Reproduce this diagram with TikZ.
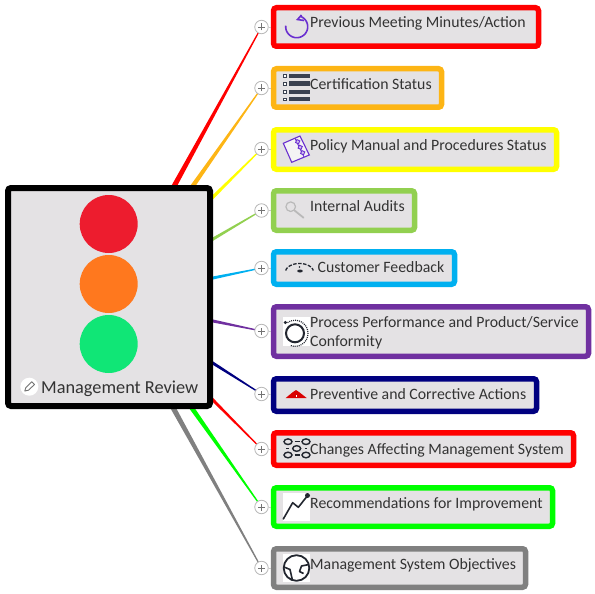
\documentclass[tikz,border=0pt]{standalone}
\usepackage{fontspec}
\setmainfont{Carlito}
\usetikzlibrary{calc,backgrounds,arrows.meta}
\definecolor{boxfill}{HTML}{E4E2E4}
\definecolor{inkc}{HTML}{333333}
\definecolor{iconc}{HTML}{3A4150}
\definecolor{icond}{HTML}{22262F}
\definecolor{violetc}{HTML}{6A2FD0}
\definecolor{cred}{HTML}{FF0000}
\definecolor{corange}{HTML}{FDB515}
\definecolor{cyellow}{HTML}{FFFF00}
\definecolor{cgreen}{HTML}{92D050}
\definecolor{cblue}{HTML}{00B0F0}
\definecolor{cpurple}{HTML}{7030A0}
\definecolor{cnavy}{HTML}{000080}
\definecolor{clime}{HTML}{00FF00}
\definecolor{cgray}{HTML}{808080}
\definecolor{lampr}{HTML}{ED1C2E}
\definecolor{lampo}{HTML}{FF781E}
\definecolor{lampg}{HTML}{10E676}
\tikzset{
  topic/.style={draw=#1,line width=5.5pt,rounded corners=3pt,fill=boxfill,inner sep=0pt},
  hubbox/.style={draw=black,line width=6pt,rounded corners=3pt,fill=boxfill,inner sep=0pt},
  lamp/.style={circle,fill=#1,inner sep=0pt,minimum size=58pt},
  lbl/.style={anchor=base west,inner sep=0pt,text=inkc,font=\fontsize{15.8pt}{19pt}\selectfont},
  plusnode/.style={circle,draw=gray!55,line width=0.8pt,fill=white,inner sep=0pt,minimum size=13.5pt,
    path picture={\draw[gray!90!black,line width=0.7pt] ([xshift=-3.5pt]path picture bounding box.center)--([xshift=3.5pt]path picture bounding box.center)
      ([yshift=-3.5pt]path picture bounding box.center)--([yshift=3.5pt]path picture bounding box.center);}},
  whitepad/.style={fill=white,draw=none},
  stub/.style={draw=gray!45,line width=0.7pt},
}
\newcommand{\taper}[4]{% start, end, colour, start half-width
  \fill[#3] ($(#1)!#4pt!90:(#2)$) -- ($(#2)!0.55pt!-90:(#1)$) -- ($(#2)!0.55pt!90:(#1)$) -- ($(#1)!#4pt!-90:(#2)$) -- cycle;
}
\begin{document}
\begin{tikzpicture}[x=1pt,y=-1pt]
\useasboundingbox (0,0) rectangle (595,594);
% topic boxes
\node[topic=cred,minimum width=265pt,minimum height=38.5pt] (b1) at (406,27) {};
\node[topic=corange,minimum width=168pt,minimum height=38.5pt] (b2) at (357.5,88) {};
\node[topic=cyellow,minimum width=283pt,minimum height=39.5pt] (b3) at (415,149.5) {};
\node[topic=cgreen,minimum width=141pt,minimum height=39.5pt] (b4) at (344,210.5) {};
\node[topic=cblue,minimum width=181pt,minimum height=32.5pt] (b5) at (364,268) {};
\node[topic=cpurple,minimum width=315pt,minimum height=49.5pt] (b6) at (431,331.5) {};
\node[topic=cnavy,minimum width=263pt,minimum height=32.5pt] (b7) at (405,395) {};
\node[topic=cred,minimum width=300pt,minimum height=32.5pt] (b8) at (423.5,449) {};
\node[topic=clime,minimum width=279pt,minimum height=38.5pt] (b9) at (413,507) {};
\node[topic=cgray,minimum width=252pt,minimum height=38.5pt] (b10) at (399.5,568) {};
% plus nodes
\foreach \n/\y in {1/27,2/88,3/149,4/210.5,5/268,6/331,7/394,8/449,9/507,10/568}
  \node[plusnode] (p\n) at (261.5,\y) {};
% hub
\node[hubbox,minimum width=202pt,minimum height=218pt] (hub) at (109,297) {};
\node[lamp=lampr] (l1) at (108.7,224) {};
\node[lamp=lampo] (l2) at (108.7,284) {};
\node[lamp=lampg] (l3) at (108.7,344) {};
% hub anchors for connectors
\coordinate (s1) at (172,190);
\coordinate (s2) at (190,190);
\coordinate (s3) at (208,202);
\coordinate (s4) at (208,242);
\coordinate (s5) at (208,279);
\coordinate (s6) at (208,320);
\coordinate (s7) at (208,360);
\coordinate (s8) at (208,395);
\coordinate (s9) at (189,404);
\coordinate (s10) at (171,404);
\begin{scope}[on background layer]
\taper{s1}{p1}{cred}{2.6}
\taper{s2}{p2}{corange}{2.3}
\taper{s3}{p3}{cyellow}{1.8}
\taper{s4}{p4}{cgreen}{1.6}
\taper{s5}{p5}{cblue}{1.6}
\taper{s6}{p6}{cpurple}{1.6}
\taper{s7}{p7}{cnavy}{1.6}
\taper{s8}{p8}{cred}{1.6}
\taper{s9}{p9}{clime}{2.4}
\taper{s10}{p10}{cgray}{2.6}
\end{scope}
\foreach \n in {1,...,10}
  \draw[stub] (p\n.east) -- (b\n.west |- p\n.east);
% labels
\node[lbl] (t1) at (310,28) {Previous Meeting Minutes/Action};
\node[lbl] (t2) at (310,89) {Certification Status};
\node[lbl] (t3) at (310,150) {Policy Manual and Procedures Status};
\node[lbl] (t4) at (310,211) {Internal Audits};
\node[lbl] (t5) at (317.5,272) {Customer Feedback};
\node[lbl] (t6a) at (310,327) {Process Performance and Product/Service};
\node[lbl] (t6b) at (310,346) {Conformity};
\node[lbl] (t7) at (310,399) {Preventive and Corrective Actions};
\node[lbl] (t8) at (310,454) {Changes Affecting Management System};
\node[lbl] (t9) at (310,508) {Recommendations for Improvement};
\node[lbl] (t10) at (310,569) {Management System Objectives};
\node[lbl,font=\fontsize{18.3pt}{22pt}\selectfont] (t0) at (41,393) {Management Review};
% pencil badge
\fill[white] (29.3,386.7) circle (9);
\draw[gray!90!black,line width=0.9pt,line join=round] (24.8,391) -- (25.8,387.7) -- (31.8,381.8) -- (34.5,384.5) -- (28.5,390.2) -- cycle;
% icon 1: circular arrow
\draw[violetc,line width=1.6pt] plot[smooth,domain=70:-185,samples=40] ({296.7+11*cos(\x)},{26.7-11*sin(\x)});
\draw[violetc,line width=1.6pt] (301.5,15) -- (297.5,19.5) -- (304,20.5);
% icon 2: list
\foreach \y/\h in {76/4,84/5,92/4,99.5/4}{
  \fill[iconc] (289,\y-\h/2) rectangle (310,\y+\h/2);
  \draw[iconc,line width=0.9pt,fill=white] (283.5,\y-1.3) rectangle (286,\y+1.3);
}
% icon 3: document
\draw[violetc,line width=1.1pt,fill=boxfill!40!white] (283.3,143.3) -- (300,136) -- (309.3,155) -- (291.7,162.3) -- cycle;
\draw[violetc,line width=0.9pt] (295,138.3) -- (304,157);
\foreach \x/\y in {297.7/141.7,300.2/147.3,302.7/152.7}
  \draw[violetc,line width=0.9pt,fill=violetc!30,rotate around={-24:(\x,\y)}] (\x-1.6,\y-1.6) rectangle (\x+1.6,\y+1.6);
% icon 4: magnifier
\draw[gray!55,line width=1.2pt] (290.7,206.7) circle (4.8);
\draw[gray!55,line width=1.8pt,line cap=round] (294.2,210.2) -- (303.5,217.7);
% icon 5: gauge
\draw[icond,line width=1.3pt,dash pattern=on 3.5pt off 1.5pt] plot[smooth,domain=170:10,samples=25] ({299.5+14*cos(\x)},{272-8.5*sin(\x)});
\fill[icond] (300,271) ellipse (2.8 and 1.5);
\fill[icond] (299.5,267) circle (0.8);
% icon 6: dial
\fill[whitepad] (283,316.5) rectangle (310,346);
\draw[icond,line width=2pt] (295,333.3) circle (9);
\draw[icond,line width=1.2pt,dash pattern=on 1pt off 1pt] plot[smooth,domain=125:-110,samples=30] ({295+13*cos(\x)},{333.3-13*sin(\x)});
\fill[icond] (285.3,322.5) circle (1.7);
% icon 7: hat
\fill[red!85!black] (285.7,398) -- (293,392) -- (296,390) -- (299,392) -- (306.7,398) -- cycle;
\fill[white] (295.5,394.5) rectangle (296.7,396.8);
% icon 8: network
\foreach \x/\y in {288/441.7,306/441.7,296.7/448.5,288/455,306/455}
  \draw[icond,line width=1.4pt] (\x,\y) ellipse (4 and 2.8);
\draw[icond,line width=1.1pt] (294.5,441.7) -- (299.5,441.7) (294.5,455) -- (299.5,455) (286,448.5) -- (288.5,448.5) (304.5,448.5) -- (307,448.5);
% icon 9: chart
\fill[whitepad] (283,492.7) rectangle (310,520.7);
\draw[icond,line width=1.6pt,line cap=round,line join=round] (283.3,519) -- (292.7,502.7) -- (298.3,507.3) -- (307.3,496);
\fill[icond] (307.5,495.5) circle (2.5);
% icon 10: globe
\fill[whitepad] (283,554) rectangle (310,581.7);
\draw[icond,line width=1.8pt] (296.5,568) circle (12.8);
\draw[icond,line width=1.6pt,line join=round] (284,567) -- (290,569.5) -- (292.5,580.5) (309,564.5) -- (301.5,566) -- (299.5,571.5) -- (303.5,573.5);
\end{tikzpicture}
\end{document}
